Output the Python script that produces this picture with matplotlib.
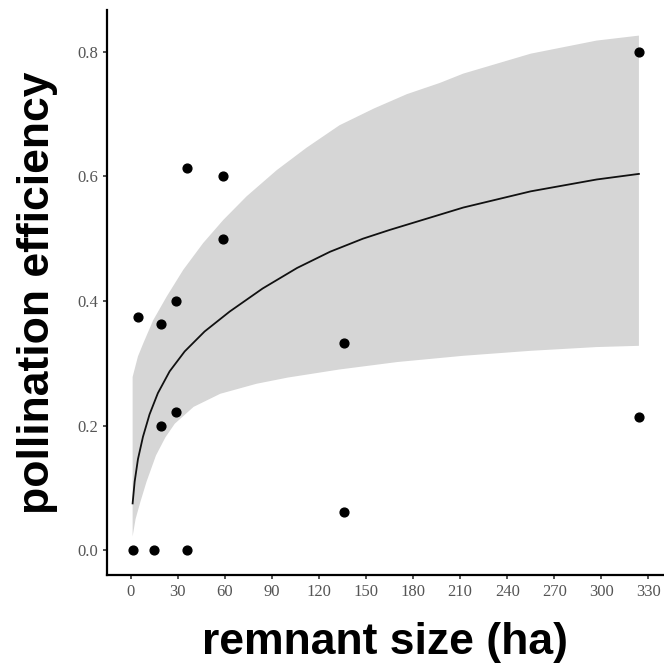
import matplotlib
matplotlib.use('agg')
import matplotlib.pyplot as plt

# observed remnants
size_ha = [1.3, 14.7, 36, 19, 28.5, 4.6, 19, 28.5, 36, 59, 59, 136, 136, 324, 324]
efficiency = [0.0, 0.0, 0.0, 0.2, 0.222, 0.375, 0.363, 0.40, 0.614, 0.60, 0.50, 0.333, 0.062, 0.214, 0.80]

# fitted curve
fit_x = [1.1, 2.4, 4.5, 7.7, 11.9, 17.2, 24.7, 34.3, 47, 63, 84, 106, 127, 148, 165, 212, 255, 297, 324]
fit_y = [0.075, 0.110, 0.146, 0.182, 0.218, 0.252, 0.287, 0.319, 0.351, 0.383,
         0.420, 0.453, 0.479, 0.500, 0.514, 0.550, 0.576, 0.595, 0.604]

# confidence band
upper_x = [1.1, 4.5, 7.9, 14.2, 22.8, 33.4, 46.1, 58.9, 73.8, 93, 112, 133, 155, 176, 197, 212, 255, 297, 324]
upper_y = [0.278, 0.311, 0.332, 0.369, 0.407, 0.45, 0.493, 0.53, 0.568, 0.61,
           0.646, 0.682, 0.709, 0.732, 0.75, 0.765, 0.797, 0.818, 0.826]
lower_x = [1.1, 3, 6, 10, 16, 22, 28, 40, 57, 80, 100, 133, 170, 212, 255, 297, 324]
lower_y = [0.022, 0.05, 0.077, 0.11, 0.152, 0.181, 0.203, 0.230, 0.251, 0.267,
           0.277, 0.290, 0.302, 0.312, 0.32, 0.326, 0.328]

xticks = list(range(0, 331, 30))
yticks = [0.0, 0.2, 0.4, 0.6, 0.8]

fig = plt.figure(figsize=(6.64, 6.71), dpi=100)
ax = fig.add_axes([0.161, 0.143, 0.839, 0.842])

# band polygon: upper edge then lower edge reversed
poly_x = upper_x + lower_x[::-1]
poly_y = upper_y + lower_y[::-1]
ax.fill(poly_x, poly_y, color='#d6d6d6', lw=0, zorder=1)
ax.plot(fit_x, fit_y, color='#111111', lw=1.3, zorder=2)
ax.scatter(size_ha, efficiency, s=40, color='black', zorder=3)

ax.set_xlim(-15.3, 340)
ax.set_ylim(-0.04, 0.867)
ax.set_xticks(xticks)
ax.set_yticks(yticks)
ax.set_yticklabels(['%.1f' % v for v in yticks])

for side in ['top', 'right']:
    ax.spines[side].set_visible(False)
for side in ['left', 'bottom']:
    ax.spines[side].set_linewidth(1.6)
ax.tick_params(direction='out', length=3, width=1.2, color='#333333',
               labelcolor='#555555', labelsize=12)
for lab in ax.get_xticklabels() + ax.get_yticklabels():
    lab.set_family('Liberation Serif')

ax.set_xlabel('remnant size (ha)', fontsize=32, fontweight='bold',
              family='Liberation Sans', labelpad=16)
ax.set_ylabel('pollination efficiency', fontsize=32, fontweight='bold',
              family='Liberation Sans', labelpad=14)

fig.savefig('out.png', dpi=100)
